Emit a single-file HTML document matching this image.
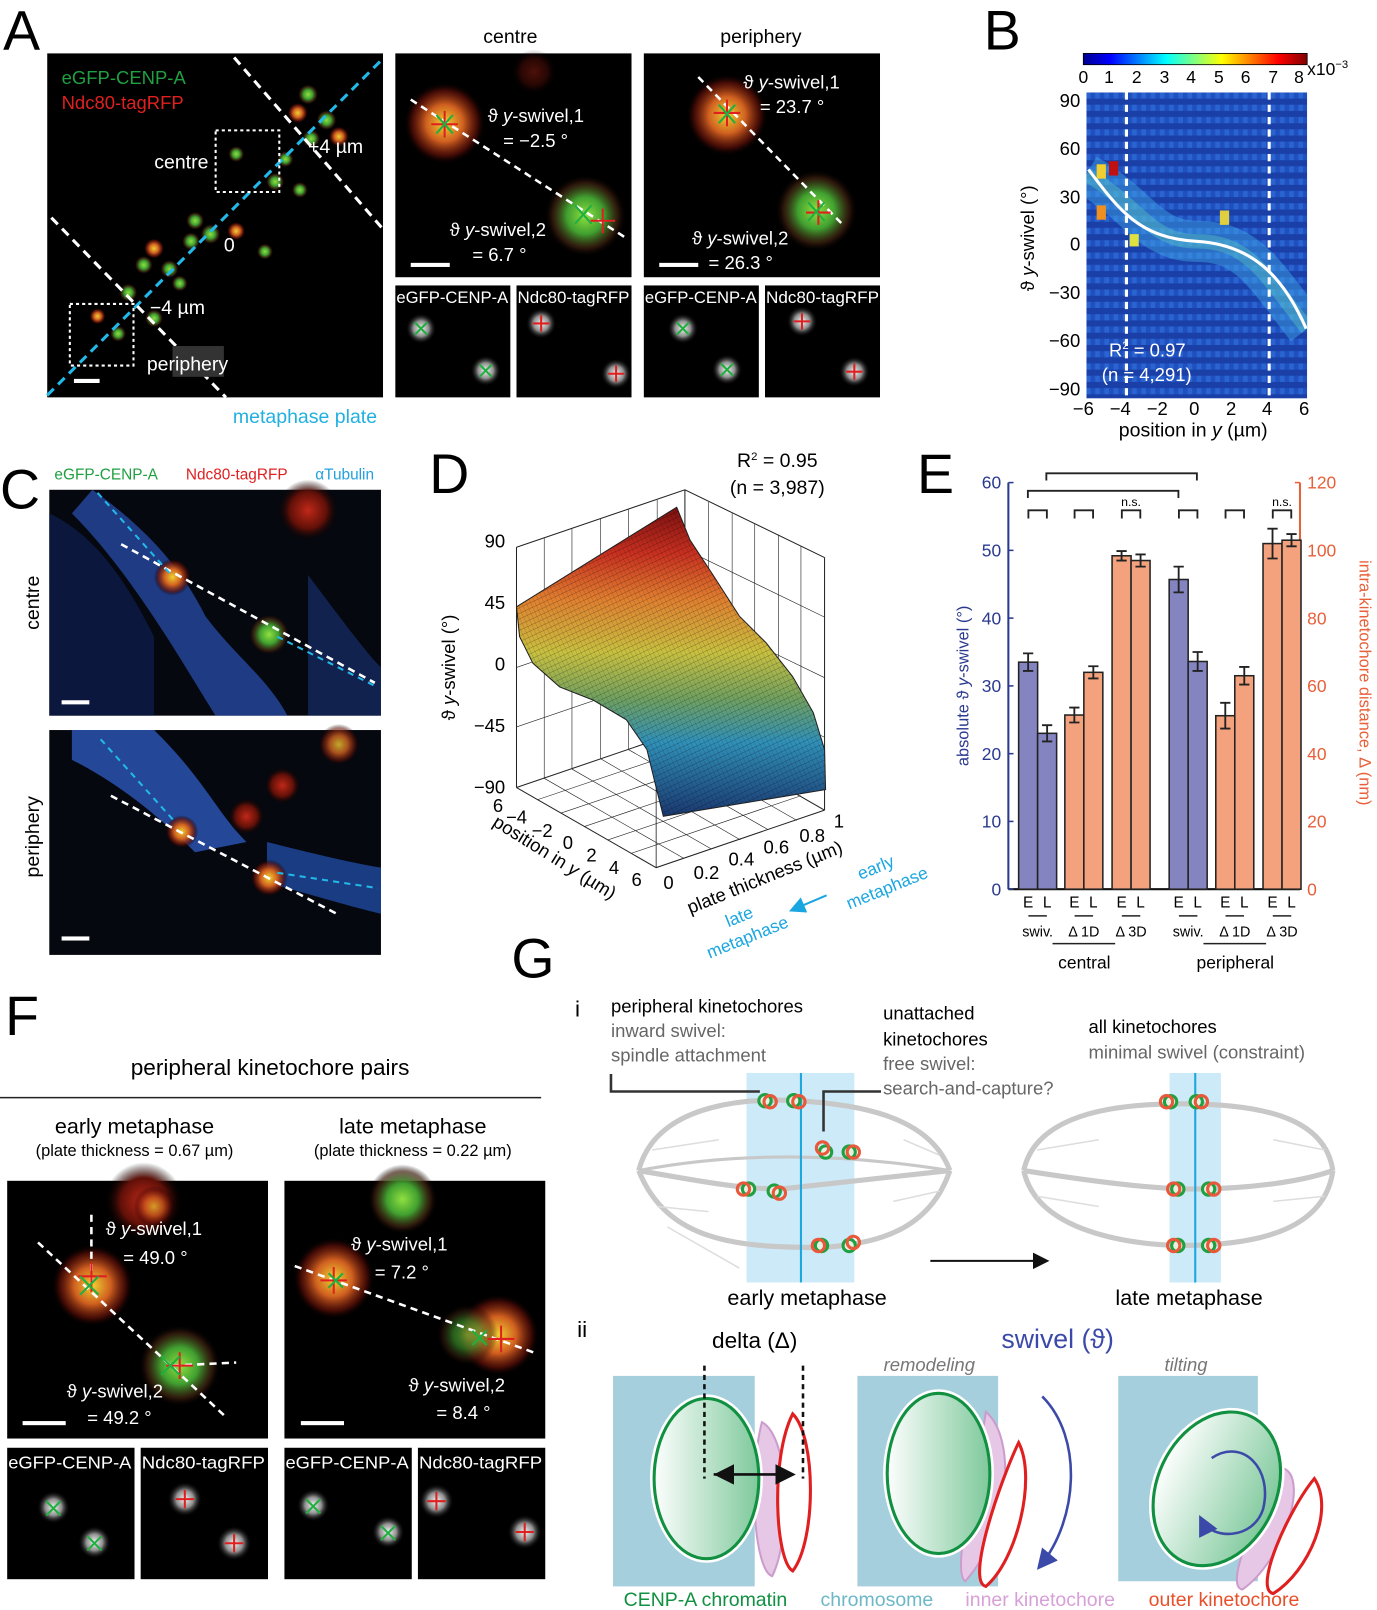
<!DOCTYPE html>
<html><head><meta charset="utf-8"><style>
html,body{margin:0;padding:0;background:#fff;}
svg{display:block;font-family:"Liberation Sans",Arial,sans-serif;}
</style></head><body>
<svg id="fig" width="1377" height="1610" viewBox="0 0 1341 1568" preserveAspectRatio="none" xmlns="http://www.w3.org/2000/svg">
<defs>
<radialGradient id="gY"><stop offset="0" stop-color="#f0d030"/><stop offset="0.45" stop-color="#d06020"/><stop offset="0.8" stop-color="#601008" stop-opacity="0.7"/><stop offset="1" stop-color="#000" stop-opacity="0"/></radialGradient>
<radialGradient id="gG"><stop offset="0" stop-color="#90e040"/><stop offset="0.45" stop-color="#40a030"/><stop offset="0.8" stop-color="#402010" stop-opacity="0.7"/><stop offset="1" stop-color="#000" stop-opacity="0"/></radialGradient>
<radialGradient id="gR"><stop offset="0" stop-color="#c02818"/><stop offset="0.6" stop-color="#601008"/><stop offset="1" stop-color="#000" stop-opacity="0"/></radialGradient>
<radialGradient id="gW"><stop offset="0" stop-color="#f4f4f4"/><stop offset="0.5" stop-color="#909090"/><stop offset="1" stop-color="#000" stop-opacity="0"/></radialGradient>
<linearGradient id="jet" x1="0" x2="1"><stop offset="0" stop-color="#00008f"/><stop offset="0.12" stop-color="#0000ff"/><stop offset="0.37" stop-color="#00ffff"/><stop offset="0.62" stop-color="#ffff00"/><stop offset="0.87" stop-color="#ff0000"/><stop offset="1" stop-color="#800000"/></linearGradient>
<linearGradient id="surf" gradientUnits="userSpaceOnUse" x1="0" y1="494" x2="0" y2="795"><stop offset="0" stop-color="#7a1010"/><stop offset="0.15" stop-color="#c83020"/><stop offset="0.3" stop-color="#e08030"/><stop offset="0.47" stop-color="#c8c040"/><stop offset="0.62" stop-color="#70a060"/><stop offset="0.76" stop-color="#3090b8"/><stop offset="1" stop-color="#1a3870"/></linearGradient>
<pattern id="mesh" width="4" height="5" patternUnits="userSpaceOnUse" patternTransform="rotate(-25)"><rect width="4" height="5" fill="none"/><line x1="0" y1="0" x2="4" y2="0" stroke="#000" stroke-width="0.8" opacity="0.5"/><line x1="0" y1="0" x2="0" y2="5" stroke="#000" stroke-width="0.6" opacity="0.4"/></pattern>
<pattern id="cells" width="9" height="12" patternUnits="userSpaceOnUse"><rect width="9" height="12" fill="#2050c0"/><rect width="9" height="6" fill="#1a40a8"/><rect x="4.5" y="6" width="4.5" height="6" fill="#2a64d0"/></pattern>
<clipPath id="hmClip"><rect x="1058" y="90" width="215" height="298"/></clipPath>
<linearGradient id="chrom" x1="0" x2="1"><stop offset="0" stop-color="#ffffff"/><stop offset="1" stop-color="#7cc89a"/></linearGradient>
<marker id="ah" markerWidth="8" markerHeight="8" refX="6" refY="4" orient="auto"><path d="M0,0 L8,4 L0,8 z" fill="#111"/></marker>
<marker id="ahb" markerWidth="8" markerHeight="8" refX="6" refY="4" orient="auto"><path d="M0,0 L8,4 L0,8 z" fill="#3b4aa8"/></marker>
<marker id="ahc" markerWidth="8" markerHeight="8" refX="6" refY="4" orient="auto"><path d="M0,0 L8,4 L0,8 z" fill="#1aa6e0"/></marker>
<marker id="ahs" markerWidth="8" markerHeight="8" refX="0" refY="4" orient="auto"><path d="M8,0 L0,4 L8,8 z" fill="#111"/></marker>
</defs>

<!-- ========== PANEL A ========== -->
<g>
<text x="3" y="48" font-size="54">A</text>
<rect x="46" y="52" width="327" height="335" fill="#000"/>
<g>
<circle cx="300" cy="92" r="10" fill="url(#gG)"/><circle cx="290" cy="110" r="10" fill="url(#gY)"/><circle cx="318" cy="117" r="10" fill="url(#gG)"/><circle cx="330" cy="133" r="10" fill="url(#gY)"/><circle cx="303" cy="135" r="9" fill="url(#gG)"/>
<circle cx="230" cy="150" r="8" fill="url(#gG)"/><circle cx="268" cy="177" r="9" fill="url(#gG)"/><circle cx="292" cy="185" r="8" fill="url(#gG)"/><circle cx="278" cy="155" r="8" fill="url(#gG)"/>
<circle cx="190" cy="215" r="9" fill="url(#gG)"/><circle cx="205" cy="228" r="10" fill="url(#gG)"/><circle cx="230" cy="225" r="9" fill="url(#gY)"/><circle cx="186" cy="235" r="9" fill="url(#gG)"/><circle cx="258" cy="245" r="8" fill="url(#gG)"/>
<circle cx="150" cy="242" r="10" fill="url(#gY)"/><circle cx="140" cy="258" r="9" fill="url(#gG)"/><circle cx="165" cy="262" r="9" fill="url(#gG)"/><circle cx="175" cy="276" r="8" fill="url(#gG)"/>
<circle cx="125" cy="285" r="9" fill="url(#gG)"/><circle cx="95" cy="308" r="8" fill="url(#gY)"/><circle cx="115" cy="325" r="8" fill="url(#gG)"/><circle cx="150" cy="310" r="9" fill="url(#gG)"/>
</g>
<line x1="46" y1="385" x2="372" y2="58" stroke="#22b8e8" stroke-width="3" stroke-dasharray="9,6"/>
<line x1="228" y1="56" x2="372" y2="222" stroke="#fff" stroke-width="3" stroke-dasharray="9,6"/>
<line x1="50" y1="212" x2="220" y2="387" stroke="#fff" stroke-width="3" stroke-dasharray="9,6"/>
<rect x="210" y="127" width="62" height="60" fill="none" stroke="#fff" stroke-width="2" stroke-dasharray="3,3"/>
<rect x="68" y="296" width="62" height="60" fill="none" stroke="#fff" stroke-width="2" stroke-dasharray="3,3"/>
<rect x="168" y="337" width="50" height="30" fill="#333"/>
<text x="60" y="82" font-size="18" fill="#20a040">eGFP-CENP-A</text>
<text x="60" y="106" font-size="18" fill="#e02020">Ndc80-tagRFP</text>
<text x="203" y="164" font-size="19" fill="#fff" text-anchor="end">centre</text>
<text x="300" y="149" font-size="19" fill="#fff">+4 µm</text>
<text x="218" y="245" font-size="19" fill="#fff">0</text>
<text x="146" y="306" font-size="19" fill="#fff">−4 µm</text>
<text x="143" y="361" font-size="19" fill="#fff">periphery</text>
<rect x="72" y="369" width="25" height="4" fill="#fff"/>
<text x="297" y="412" font-size="19" fill="#22b0e0" text-anchor="middle">metaphase plate</text>

<text x="497" y="42" font-size="19" text-anchor="middle">centre</text>
<text x="741" y="42" font-size="19" text-anchor="middle">periphery</text>
<rect x="385" y="52" width="230" height="218" fill="#000"/>
<circle cx="520" cy="70" r="22" fill="url(#gR)" opacity="0.4"/>
<circle cx="433" cy="120" r="40" fill="url(#gY)"/>
<circle cx="570" cy="210" r="40" fill="url(#gG)"/>
<line x1="400" y1="97" x2="610" y2="232" stroke="#fff" stroke-width="2.5" stroke-dasharray="7,5"/>
<path d="M420,121 h26 M433,108 v26 M575,215 h24 M587,203 v24" stroke="#e02020" stroke-width="2"/>
<path d="M425,112 l16,18 M441,112 l-16,18 M560,200 l16,18 M576,200 l-16,18" stroke="#20b040" stroke-width="2"/>
<text x="475" y="119" font-size="18" fill="#fff">ϑ <tspan font-style="italic">y</tspan>-swivel,1</text>
<text x="490" y="143" font-size="18" fill="#fff">= −2.5 °</text>
<text x="438" y="230" font-size="18" fill="#fff">ϑ <tspan font-style="italic">y</tspan>-swivel,2</text>
<text x="460" y="254" font-size="18" fill="#fff">= 6.7 °</text>
<rect x="400" y="256" width="38" height="4" fill="#fff"/>
<rect x="627" y="52" width="230" height="218" fill="#000"/>
<circle cx="708" cy="112" r="40" fill="url(#gY)"/>
<circle cx="795" cy="205" r="40" fill="url(#gG)"/>
<line x1="680" y1="75" x2="820" y2="218" stroke="#fff" stroke-width="2.5" stroke-dasharray="7,5"/>
<path d="M695,110 h26 M708,97 v26 M785,207 h24 M797,195 v24" stroke="#e02020" stroke-width="2"/>
<path d="M700,102 l16,18 M716,102 l-16,18 M787,197 l16,18 M803,197 l-16,18" stroke="#20b040" stroke-width="2"/>
<text x="724" y="86" font-size="18" fill="#fff">ϑ <tspan font-style="italic">y</tspan>-swivel,1</text>
<text x="740" y="110" font-size="18" fill="#fff">= 23.7 °</text>
<text x="674" y="238" font-size="18" fill="#fff">ϑ <tspan font-style="italic">y</tspan>-swivel,2</text>
<text x="690" y="262" font-size="18" fill="#fff">= 26.3 °</text>
<rect x="642" y="256" width="38" height="4" fill="#fff"/>
<g font-size="16" fill="#fff">
<rect x="385" y="278" width="112" height="109" fill="#000"/><circle cx="410" cy="320" r="15" fill="url(#gW)"/><circle cx="473" cy="361" r="15" fill="url(#gW)"/>
<text x="386" y="295" textLength="109" lengthAdjust="spacingAndGlyphs">eGFP-CENP-A</text>
<rect x="503" y="278" width="112" height="109" fill="#000"/><circle cx="527" cy="315" r="15" fill="url(#gW)"/><circle cx="600" cy="364" r="15" fill="url(#gW)"/>
<text x="504" y="295" textLength="109" lengthAdjust="spacingAndGlyphs">Ndc80-tagRFP</text>
<rect x="627" y="278" width="112" height="109" fill="#000"/><circle cx="665" cy="320" r="15" fill="url(#gW)"/><circle cx="708" cy="360" r="15" fill="url(#gW)"/>
<text x="628" y="295" textLength="109" lengthAdjust="spacingAndGlyphs">eGFP-CENP-A</text>
<rect x="745" y="278" width="112" height="109" fill="#000"/><circle cx="781" cy="313" r="15" fill="url(#gW)"/><circle cx="832" cy="362" r="15" fill="url(#gW)"/>
<text x="746" y="295" textLength="110" lengthAdjust="spacingAndGlyphs">Ndc80-tagRFP</text>
</g>
<path d="M404,314 l12,12 M416,314 l-12,12 M467,355 l12,12 M479,355 l-12,12 M659,314 l12,12 M671,314 l-12,12 M702,354 l12,12 M714,354 l-12,12" stroke="#20b040" stroke-width="2"/>
<path d="M519,315 h16 M527,307 v16 M592,364 h16 M600,356 v16 M773,313 h16 M781,305 v16 M824,362 h16 M832,354 v16" stroke="#e02020" stroke-width="2"/>
</g>

<!-- ========== PANEL B ========== -->
<g>
<text x="958" y="48" font-size="54">B</text>
<rect x="1055" y="52" width="218" height="11" fill="url(#jet)" stroke="#000" stroke-width="0.8"/>
<g font-size="17" text-anchor="middle">
<text x="1055" y="81">0</text><text x="1080" y="81">1</text><text x="1107" y="81">2</text><text x="1134" y="81">3</text><text x="1160" y="81">4</text><text x="1187" y="81">5</text><text x="1213" y="81">6</text><text x="1240" y="81">7</text><text x="1265" y="81">8</text>
</g>
<text x="1273" y="73" font-size="17">x10<tspan font-size="11" dy="-7">−3</tspan></text>
<g clip-path="url(#hmClip)">
<rect x="1058" y="90" width="215" height="298" fill="url(#cells)"/>
<path d="M1058,170 C1110,200 1120,235 1165,235 C1215,235 1230,265 1273,320" stroke="#40a8e8" stroke-width="40" fill="none" opacity="0.45"/>
<path d="M1058,170 C1110,200 1120,235 1165,235 C1215,235 1230,265 1273,320" stroke="#60d0c0" stroke-width="14" fill="none" opacity="0.35"/>
<rect x="1080" y="157" width="9" height="14" fill="#c01010"/><rect x="1068" y="160" width="9" height="14" fill="#f0d030"/><rect x="1068" y="200" width="9" height="14" fill="#f09020"/><rect x="1188" y="205" width="9" height="14" fill="#e0d040"/><rect x="1100" y="228" width="9" height="12" fill="#e0e040"/>
<path d="M1060,165 C1090,205 1110,232 1165,235 C1220,238 1250,270 1272,320" stroke="#fff" stroke-width="3" fill="none"/>
</g>
<line x1="1097" y1="90" x2="1097" y2="388" stroke="#fff" stroke-width="3" stroke-dasharray="7,5"/>
<line x1="1236" y1="90" x2="1236" y2="388" stroke="#fff" stroke-width="3" stroke-dasharray="7,5"/>
<text x="1080" y="347" font-size="18" fill="#fff">R<tspan font-size="11" dy="-7">2</tspan><tspan dy="7"> = 0.97</tspan></text>
<text x="1073" y="371" font-size="18" fill="#fff">(n = 4,291)</text>
<g font-size="18" text-anchor="end">
<text x="1052" y="104">90</text><text x="1052" y="151">60</text><text x="1052" y="198">30</text><text x="1052" y="244">0</text><text x="1052" y="291">−30</text><text x="1052" y="338">−60</text><text x="1052" y="385">−90</text>
</g>
<g font-size="18" text-anchor="middle">
<text x="1055" y="404">−6</text><text x="1091" y="404">−4</text><text x="1127" y="404">−2</text><text x="1163" y="404">0</text><text x="1199" y="404">2</text><text x="1234" y="404">4</text><text x="1270" y="404">6</text>
</g>
<text x="1162" y="425" font-size="19" text-anchor="middle">position in <tspan font-style="italic">y</tspan> (µm)</text>
<text transform="translate(1007,232) rotate(-90)" font-size="18" text-anchor="middle">ϑ <tspan font-style="italic">y</tspan>-swivel (°)</text>
</g>

<!-- ========== PANEL C ========== -->
<g>
<text x="0" y="495" font-size="54">C</text>
<text x="53" y="467" font-size="15" fill="#20a040">eGFP-CENP-A</text>
<text x="181" y="467" font-size="15" fill="#e02020">Ndc80-tagRFP</text>
<text x="307" y="467" font-size="15" fill="#22a0e0">αTubulin</text>
<rect x="48" y="477" width="323" height="220" fill="#05080f"/>
<path d="M90,477 C150,520 180,560 200,600 C230,640 260,660 280,697 L210,697 C180,650 130,560 70,500 Z" fill="#2448a0" opacity="0.8"/>
<path d="M48,500 C90,520 120,560 150,620 L150,697 L48,697 Z" fill="#0e1e50" opacity="0.7"/>
<path d="M300,560 C330,600 360,640 371,650 L371,697 L300,697 Z" fill="#1a3478" opacity="0.6"/>
<circle cx="300" cy="497" r="30" fill="url(#gR)"/>
<circle cx="168" cy="562" r="18" fill="url(#gY)"/><circle cx="262" cy="618" r="20" fill="url(#gG)"/>
<line x1="118" y1="530" x2="365" y2="665" stroke="#fff" stroke-width="2.5" stroke-dasharray="7,5"/>
<line x1="95" y1="480" x2="165" y2="558" stroke="#22b8e8" stroke-width="2" stroke-dasharray="6,5"/>
<line x1="270" y1="620" x2="365" y2="668" stroke="#22b8e8" stroke-width="2" stroke-dasharray="6,5"/>
<rect x="60" y="682" width="27" height="4" fill="#fff"/>
<rect x="48" y="711" width="323" height="219" fill="#05080f"/>
<path d="M70,711 L150,711 C200,760 210,790 240,820 L190,830 C150,790 110,760 70,740 Z" fill="#2a52b0" opacity="0.85"/>
<path d="M260,820 C300,830 340,840 371,845 L371,890 C330,880 300,870 260,860 Z" fill="#1e4aa0" opacity="0.8"/>
<circle cx="330" cy="725" r="20" fill="url(#gY)" opacity="0.8"/><circle cx="275" cy="765" r="18" fill="url(#gR)"/><circle cx="240" cy="795" r="18" fill="url(#gR)"/>
<circle cx="177" cy="810" r="16" fill="url(#gY)"/><circle cx="262" cy="855" r="18" fill="url(#gY)"/>
<line x1="108" y1="775" x2="328" y2="890" stroke="#fff" stroke-width="2.5" stroke-dasharray="7,5"/>
<line x1="98" y1="720" x2="170" y2="800" stroke="#22b8e8" stroke-width="2" stroke-dasharray="6,5"/>
<line x1="270" y1="850" x2="368" y2="865" stroke="#22b8e8" stroke-width="2" stroke-dasharray="6,5"/>
<rect x="60" y="912" width="27" height="4" fill="#fff"/>
<text transform="translate(38,587) rotate(-90)" font-size="19" text-anchor="middle">centre</text>
<text transform="translate(38,815) rotate(-90)" font-size="19" text-anchor="middle">periphery</text>
</g>

<!-- ========== PANEL D ========== -->
<g>
<text x="418" y="480" font-size="54">D</text>
<text x="757" y="455" font-size="19" text-anchor="middle">R<tspan font-size="11" dy="-7">2</tspan><tspan dy="7"> = 0.95</tspan></text>
<text x="757" y="481" font-size="19" text-anchor="middle">(n = 3,987)</text>
<g stroke="#222" stroke-width="1" fill="none">
<polyline points="503,533 667,477 803,543"/>
<line x1="503" y1="533" x2="503" y2="767"/><line x1="667" y1="477" x2="667" y2="711"/><line x1="803" y1="543" x2="803" y2="789"/>
<polyline points="503,767 667,711 803,789"/>
<polyline points="503,767 639,845 803,789"/>
<line x1="639" y1="845" x2="639" y2="611" stroke-width="0.8"/>
<path d="M530,524 v234 M557,515 v234 M585,505 v234 M612,496 v234 M640,487 v234 M690,489 v234 M713,500 v234 M735,510 v234 M758,521 v234 M780,532 v234" stroke-width="0.6"/>
<path d="M503,591 L667,535 L803,601 M503,650 L667,594 L803,660 M503,708 L667,652 L803,718" stroke-width="0.6"/>
<path d="M523,779 L689,723 M546,792 L712,736 M569,805 L735,749 M592,818 L758,762 M615,831 L780,775" stroke-width="0.6"/>
<path d="M530,758 L666,836 M557,749 L693,827 M585,739 L721,818 M612,730 L748,808 M640,721 L776,799" stroke-width="0.6"/>
</g>
<path d="M503,591 L659,494 L672,526 L695,561 L720,600 L746,626 L772,659 L792,694 L803,730 L804,769 L646,795 L638,763 L630,730 L610,701 L578,682 L545,669 L519,646 L506,620 Z" fill="url(#surf)" stroke="#222" stroke-width="1"/>
<path d="M503,591 L659,494 L672,526 L695,561 L720,600 L746,626 L772,659 L792,694 L803,730 L804,769 L646,795 L638,763 L630,730 L610,701 L578,682 L545,669 L519,646 L506,620 Z" fill="url(#mesh)" opacity="0.8"/>
<g font-size="18" text-anchor="end">
<text x="492" y="533">90</text><text x="492" y="593">45</text><text x="492" y="653">0</text><text x="492" y="713">−45</text><text x="492" y="773">−90</text>
</g>
<text transform="translate(443,650) rotate(-90)" font-size="18" text-anchor="middle">ϑ <tspan font-style="italic">y</tspan>-swivel (°)</text>
<g font-size="18" text-anchor="middle">
<text x="485" y="791">6</text><text x="503" y="802">−4</text><text x="528" y="815">−2</text><text x="553" y="827">0</text><text x="576" y="839">2</text><text x="598" y="851">4</text><text x="620" y="863">6</text>
</g>
<g font-size="18" text-anchor="middle">
<text x="651" y="866">0</text><text x="688" y="856">0.2</text><text x="722" y="843">0.4</text><text x="756" y="831">0.6</text><text x="791" y="820">0.8</text><text x="817" y="806">1</text>
</g>
<text transform="translate(537,840) rotate(32)" font-size="18" text-anchor="middle">position in <tspan font-style="italic">y</tspan> (µm)</text>
<text transform="translate(747,860) rotate(-22)" font-size="18" text-anchor="middle">plate thickness (µm)</text>
<text transform="translate(855,850) rotate(-22)" font-size="17" fill="#1aa6e0" text-anchor="middle">early</text>
<text transform="translate(866,870) rotate(-22)" font-size="17" fill="#1aa6e0" text-anchor="middle">metaphase</text>
<text transform="translate(722,898) rotate(-22)" font-size="17" fill="#1aa6e0" text-anchor="middle">late</text>
<text transform="translate(730,918) rotate(-22)" font-size="17" fill="#1aa6e0" text-anchor="middle">metaphase</text>
<line x1="805" y1="872" x2="772" y2="886" stroke="#1aa6e0" stroke-width="2" marker-end="url(#ahc)"/>
</g>

<!-- ========== PANEL E ========== -->
<g id="panelE">
<text x="893" y="480" font-size="54">E</text>
</g>

<!-- ========== PANEL F ========== -->
<g>
<text x="5" y="1008" font-size="54">F</text>
<text x="263" y="1047" font-size="22" text-anchor="middle">peripheral kinetochore pairs</text>
<line x1="0" y1="1069" x2="527" y2="1069" stroke="#222" stroke-width="1.5"/>
<text x="131" y="1104" font-size="21" text-anchor="middle">early metaphase</text>
<text x="131" y="1126" font-size="16" text-anchor="middle">(plate thickness = 0.67 µm)</text>
<text x="402" y="1104" font-size="21" text-anchor="middle">late metaphase</text>
<text x="402" y="1126" font-size="16" text-anchor="middle">(plate thickness = 0.22 µm)</text>
<rect x="7" y="1150" width="254" height="251" fill="#000"/>
<circle cx="140" cy="1170" r="38" fill="url(#gR)"/><circle cx="150" cy="1175" r="20" fill="url(#gY)" opacity="0.7"/>
<circle cx="90" cy="1252" r="40" fill="url(#gY)"/><circle cx="175" cy="1330" r="40" fill="url(#gG)"/>
<line x1="37" y1="1210" x2="220" y2="1380" stroke="#fff" stroke-width="2.5" stroke-dasharray="7,5"/>
<line x1="89" y1="1183" x2="89" y2="1255" stroke="#fff" stroke-width="2.5" stroke-dasharray="7,5"/>
<line x1="168" y1="1330" x2="230" y2="1327" stroke="#fff" stroke-width="2.5" stroke-dasharray="7,5"/>
<path d="M76,1243 h28 M89,1230 v28 M162,1330 h26 M175,1317 v26" stroke="#e02020" stroke-width="2"/>
<path d="M78,1243 l18,18 M96,1243 l-18,18 M157,1321 l18,18 M175,1321 l-18,18" stroke="#20b040" stroke-width="2"/>
<text x="103" y="1203" font-size="18" fill="#fff">ϑ <tspan font-style="italic">y</tspan>-swivel,1</text>
<text x="120" y="1231" font-size="18" fill="#fff">= 49.0 °</text>
<text x="65" y="1361" font-size="18" fill="#fff">ϑ <tspan font-style="italic">y</tspan>-swivel,2</text>
<text x="85" y="1387" font-size="18" fill="#fff">= 49.2 °</text>
<rect x="22" y="1384" width="42" height="4" fill="#fff"/>
<rect x="277" y="1150" width="254" height="251" fill="#000"/>
<circle cx="392" cy="1168" r="34" fill="url(#gG)"/><circle cx="325" cy="1245" r="40" fill="url(#gY)"/><circle cx="485" cy="1300" r="40" fill="url(#gY)"/><circle cx="455" cy="1300" r="30" fill="url(#gG)" opacity="0.6"/>
<line x1="287" y1="1233" x2="522" y2="1318" stroke="#fff" stroke-width="2.5" stroke-dasharray="7,5"/>
<path d="M312,1247 h26 M325,1234 v26 M475,1304 h26 M488,1291 v26" stroke="#e02020" stroke-width="2"/>
<path d="M320,1240 l14,14 M334,1240 l-14,14 M460,1296 l14,14 M474,1296 l-14,14" stroke="#20b040" stroke-width="2"/>
<text x="342" y="1218" font-size="18" fill="#fff">ϑ <tspan font-style="italic">y</tspan>-swivel,1</text>
<text x="365" y="1245" font-size="18" fill="#fff">= 7.2 °</text>
<text x="398" y="1355" font-size="18" fill="#fff">ϑ <tspan font-style="italic">y</tspan>-swivel,2</text>
<text x="425" y="1382" font-size="18" fill="#fff">= 8.4 °</text>
<rect x="293" y="1384" width="42" height="4" fill="#fff"/>
<g font-size="17" fill="#fff">
<rect x="7" y="1410" width="124" height="128" fill="#000"/><circle cx="52" cy="1468" r="16" fill="url(#gW)"/><circle cx="92" cy="1502" r="16" fill="url(#gW)"/>
<text x="8" y="1430" textLength="120" lengthAdjust="spacingAndGlyphs">eGFP-CENP-A</text>
<rect x="137" y="1410" width="124" height="128" fill="#000"/><circle cx="180" cy="1460" r="17" fill="url(#gW)"/><circle cx="228" cy="1503" r="17" fill="url(#gW)"/>
<text x="138" y="1430" textLength="120" lengthAdjust="spacingAndGlyphs">Ndc80-tagRFP</text>
<rect x="277" y="1410" width="124" height="128" fill="#000"/><circle cx="305" cy="1466" r="16" fill="url(#gW)"/><circle cx="378" cy="1492" r="16" fill="url(#gW)"/>
<text x="278" y="1430" textLength="120" lengthAdjust="spacingAndGlyphs">eGFP-CENP-A</text>
<rect x="407" y="1410" width="124" height="128" fill="#000"/><circle cx="425" cy="1462" r="17" fill="url(#gW)"/><circle cx="511" cy="1492" r="17" fill="url(#gW)"/>
<text x="408" y="1430" textLength="120" lengthAdjust="spacingAndGlyphs">Ndc80-tagRFP</text>
</g>
<path d="M45,1462 l14,14 M59,1462 l-14,14 M85,1496 l14,14 M99,1496 l-14,14 M298,1460 l14,14 M312,1460 l-14,14 M371,1486 l14,14 M385,1486 l-14,14" stroke="#20b040" stroke-width="2"/>
<path d="M171,1460 h18 M180,1451 v18 M219,1503 h18 M228,1494 v18 M416,1462 h18 M425,1453 v18 M502,1492 h18 M511,1483 v18" stroke="#e02020" stroke-width="2"/>
</g>

<!-- ========== PANEL G ========== -->
<g>
<text x="498" y="952" font-size="54">G</text>
<text x="560" y="990" font-size="22">i</text>
<text x="595" y="986" font-size="18">peripheral kinetochores</text>
<text x="595" y="1010" font-size="18" fill="#666">inward swivel:</text>
<text x="595" y="1034" font-size="18" fill="#666">spindle attachment</text>
<text x="860" y="993" font-size="18">unattached</text>
<text x="860" y="1018" font-size="18">kinetochores</text>
<text x="860" y="1042" font-size="18" fill="#666">free swivel:</text>
<text x="860" y="1066" font-size="18" fill="#666">search-and-capture?</text>
<text x="1060" y="1006" font-size="18">all kinetochores</text>
<text x="1060" y="1031" font-size="18" fill="#666">minimal swivel (constraint)</text>
<rect x="727" y="1045" width="105" height="204" fill="#cdeaf8"/>
<g fill="none" stroke="#c8c8c8" stroke-width="5">
<path d="M622,1140 C640,1070 740,1070 775,1072 C830,1075 905,1085 925,1140"/>
<path d="M622,1140 C650,1210 720,1215 800,1215 C850,1212 905,1200 925,1140"/>
<path d="M622,1140 C680,1150 720,1158 760,1158 L925,1140"/>
<path d="M622,1140 C700,1125 800,1120 925,1140" stroke-width="3"/>
</g>
<g fill="none" stroke="#ddd" stroke-width="1.5"><path d="M635,1120 L700,1110 M640,1175 L690,1180 M880,1110 L915,1125 M870,1170 L915,1160 M650,1195 L720,1235"/></g>
<line x1="780" y1="1045" x2="780" y2="1249" stroke="#1aa6e0" stroke-width="2"/>
<rect x="1139" y="1045" width="50" height="204" fill="#cdeaf8"/>
<g fill="none" stroke="#c8c8c8" stroke-width="5">
<path d="M997,1140 C1010,1080 1100,1075 1150,1075 C1220,1075 1290,1085 1298,1140"/>
<path d="M997,1140 C1010,1200 1100,1212 1150,1213 C1220,1213 1290,1200 1298,1140"/>
<path d="M997,1140 C1060,1150 1120,1158 1160,1158 C1220,1158 1270,1150 1298,1140"/>
</g>
<g fill="none" stroke="#ddd" stroke-width="1.5"><path d="M1010,1120 L1070,1110 M1010,1165 L1070,1175 M1240,1110 L1290,1120 M1240,1170 L1290,1165"/></g>
<line x1="1164" y1="1045" x2="1164" y2="1249" stroke="#1aa6e0" stroke-width="2"/>
<g fill="#e8f0e0" stroke-width="3">
<g stroke="#20a040"><circle cx="745" cy="1072" r="6"/><circle cx="773" cy="1072" r="6"/><circle cx="804" cy="1122" r="6"/><circle cx="827" cy="1122" r="6"/><circle cx="729" cy="1158" r="6"/><circle cx="754" cy="1160" r="6"/><circle cx="800" cy="1213" r="6"/><circle cx="827" cy="1213" r="6"/>
<circle cx="1140" cy="1073" r="6"/><circle cx="1165" cy="1073" r="6"/><circle cx="1147" cy="1158" r="6"/><circle cx="1177" cy="1158" r="6"/><circle cx="1147" cy="1213" r="6"/><circle cx="1177" cy="1213" r="6"/></g>
<g stroke="#e8583a" fill="none"><circle cx="750" cy="1073" r="6"/><circle cx="778" cy="1073" r="6"/><circle cx="801" cy="1118" r="6"/><circle cx="831" cy="1122" r="6"/><circle cx="724" cy="1158" r="6"/><circle cx="759" cy="1162" r="6"/><circle cx="797" cy="1213" r="6"/><circle cx="831" cy="1210" r="6"/>
<circle cx="1136" cy="1073" r="6"/><circle cx="1170" cy="1073" r="6"/><circle cx="1143" cy="1158" r="6"/><circle cx="1182" cy="1158" r="6"/><circle cx="1143" cy="1213" r="6"/><circle cx="1182" cy="1213" r="6"/></g>
</g>
<polyline points="595,1046 595,1063 740,1063" fill="none" stroke="#333" stroke-width="2.5"/>
<polyline points="858,1063 802,1063 802,1102" fill="none" stroke="#333" stroke-width="2.5"/>
<line x1="906" y1="1228" x2="1018" y2="1228" stroke="#111" stroke-width="2" marker-end="url(#ah)"/>
<text x="786" y="1271" font-size="21" text-anchor="middle">early metaphase</text>
<text x="1158" y="1271" font-size="21" text-anchor="middle">late metaphase</text>
<text x="562" y="1302" font-size="22">ii</text>
<text x="735" y="1313" font-size="22" text-anchor="middle">delta (Δ)</text>
<text x="1030" y="1313" font-size="26" fill="#3b4aa8" text-anchor="middle">swivel (ϑ)</text>
<text x="905" y="1335" font-size="18" font-style="italic" fill="#777" text-anchor="middle">remodeling</text>
<text x="1155" y="1335" font-size="18" font-style="italic" fill="#777" text-anchor="middle">tilting</text>
<rect x="597" y="1340" width="138" height="205" fill="#a5cfdc"/>
<path d="M742,1385 C770,1400 770,1500 752,1535 C735,1530 728,1440 742,1385 Z" fill="#e6c8e6" stroke="#cc9ccc" stroke-width="2"/>
<path d="M772,1377 C795,1400 795,1500 772,1530 C755,1520 750,1420 772,1377 Z" fill="#fff" stroke="#e02020" stroke-width="3"/>
<ellipse cx="688" cy="1440" rx="53" ry="80" fill="url(#chrom)" stroke="#fff" stroke-width="4"/>
<ellipse cx="688" cy="1440" rx="51" ry="78" fill="none" stroke="#109040" stroke-width="3"/>
<line x1="686" y1="1330" x2="686" y2="1440" stroke="#111" stroke-width="2.5" stroke-dasharray="5,4"/>
<line x1="782" y1="1330" x2="782" y2="1440" stroke="#111" stroke-width="2.5" stroke-dasharray="5,4"/>
<line x1="695" y1="1436" x2="770" y2="1436" stroke="#111" stroke-width="2.5" marker-start="url(#ahs)" marker-end="url(#ah)"/>
<rect x="835" y="1340" width="137" height="205" fill="#a5cfdc"/>
<path d="M960,1375 C990,1400 985,1490 940,1540 C925,1530 955,1420 960,1375 Z" fill="#e6c8e6" stroke="#cc9ccc" stroke-width="2"/>
<path d="M992,1405 C1010,1440 990,1520 960,1545 C940,1540 975,1440 992,1405 Z" fill="#fff" stroke="#e02020" stroke-width="3"/>
<ellipse cx="914" cy="1435" rx="52" ry="80" fill="url(#chrom)" stroke="#fff" stroke-width="4"/>
<ellipse cx="914" cy="1435" rx="50" ry="78" fill="none" stroke="#109040" stroke-width="3"/>
<path d="M1015,1360 C1055,1400 1050,1480 1013,1525" fill="none" stroke="#3b4aa8" stroke-width="2.5" marker-end="url(#ahb)"/>
<rect x="1089" y="1340" width="136" height="200" fill="#a5cfdc"/>
<path d="M1250,1430 C1275,1440 1250,1520 1210,1548 C1190,1545 1230,1460 1250,1430 Z" fill="#e6c8e6" stroke="#cc9ccc" stroke-width="2"/>
<path d="M1280,1440 C1300,1470 1275,1530 1240,1552 C1220,1548 1255,1470 1280,1440 Z" fill="#fff" stroke="#e02020" stroke-width="3"/>
<ellipse cx="1185" cy="1450" rx="60" ry="80" transform="rotate(25,1185,1450)" fill="url(#chrom)" stroke="#fff" stroke-width="4"/>
<ellipse cx="1185" cy="1450" rx="58" ry="78" transform="rotate(25,1185,1450)" fill="none" stroke="#109040" stroke-width="3"/>
<path d="M1180,1420 C1210,1400 1240,1430 1230,1470 C1220,1500 1180,1500 1170,1480" fill="none" stroke="#3b4aa8" stroke-width="2.5" marker-end="url(#ahb)"/>
<text x="687" y="1564" font-size="19" fill="#109040" text-anchor="middle">CENP-A chromatin</text>
<text x="854" y="1564" font-size="19" fill="#6cb8c8" text-anchor="middle">chromosome</text>
<text x="1013" y="1564" font-size="19" fill="#d8a0d8" text-anchor="middle">inner kinetochore</text>
<text x="1192" y="1564" font-size="19" fill="#e8502a" text-anchor="middle">outer kinetochore</text>
</g>
</svg>

<script>
// Panel E data
const groupLabels = ['swiv.', 'Δ 1D', 'Δ 3D', 'swiv.', 'Δ 1D', 'Δ 3D'];
const groupAxis = ['left', 'right', 'right', 'left', 'right', 'right'];
const earlyValues = [33.5, 51.4, 98.4, 45.7, 51.2, 102.0];
const lateValues = [23.0, 64.0, 97.0, 33.6, 63.0, 103.0];
const earlyErr = [1.3, 2.2, 1.4, 1.9, 3.8, 4.4];
const lateErr = [1.2, 1.8, 1.8, 1.4, 2.6, 1.8];
const leftTicks = [0, 10, 20, 30, 40, 50, 60];
const rightTicks = [0, 20, 40, 60, 80, 100, 120];

const NS = 'http://www.w3.org/2000/svg';
const E = document.getElementById('panelE');
const Y0 = 866, Y1 = 470, AXL = 982, AXR = 1266;
function yLeft(v) { return Y0 - (v / 60) * (Y0 - Y1); }
function yRight(v) { return Y0 - (v / 120) * (Y0 - Y1); }
function yFor(i, v) { return groupAxis[i] === 'left' ? yLeft(v) : yRight(v); }
const groupStart = [992, 1037, 1083, 1138.6, 1184, 1230];
const BW = 18.5;
function mk(tag, attrs, parent) {
  const el = document.createElementNS(NS, tag);
  for (const k in attrs) el.setAttribute(k, attrs[k]);
  (parent || E).appendChild(el);
  return el;
}
let a = mk('line', {x1: AXL, y1: Y0, x2: AXL, y2: Y1, stroke: '#2b3a8f', 'stroke-width': 2});


a = mk('line', {x1: AXR, y1: Y0, x2: AXR, y2: Y1, stroke: '#e8603a', 'stroke-width': 2});


a = mk('line', {x1: AXL, y1: Y0, x2: AXR, y2: Y0, stroke: '#111', 'stroke-width': 2});


leftTicks.forEach(t => {
  const y = yLeft(t);
  mk('line', {x1: AXL, y1: y, x2: AXL + 5, y2: y, stroke: '#2b3a8f', 'stroke-width': 1.5});
  const tx = mk('text', {x: AXL - 7, y: y + 6, 'font-size': 17, fill: '#2b3a8f', 'text-anchor': 'end'});
  tx.textContent = t;
  
  
});
rightTicks.forEach(t => {
  const y = yRight(t);
  mk('line', {x1: AXR - 5, y1: y, x2: AXR, y2: y, stroke: '#e8603a', 'stroke-width': 1.5});
  const tx = mk('text', {x: AXR + 7, y: y + 6, 'font-size': 17, fill: '#e8603a'});
  tx.textContent = t;
  
  
});
groupLabels.forEach((g, i) => {
  const color = groupAxis[i] === 'left' ? '#8484c0' : '#f4a27e';
  [[earlyValues[i], earlyErr[i], 0, 'E'], [lateValues[i], lateErr[i], 1, 'L']].forEach(([v, e, k, lab]) => {
    const x = groupStart[i] + k * BW;
    const y = yFor(i, v);
    const r = mk('rect', {x: x, y: y, width: BW, height: Y0 - y, fill: color, stroke: '#222', 'stroke-width': 1.5});
    
    
    const cx = x + BW / 2, yt = yFor(i, v + e), yb = yFor(i, v - e);
    const eb = mk('path', {d: `M${cx},${yt} V${yb} M${cx-5},${yt} H${cx+5} M${cx-5},${yb} H${cx+5}`, stroke: '#222', 'stroke-width': 1.8, fill: 'none'});
    
    
    const t = mk('text', {x: cx, y: 884, 'font-size': 15, 'text-anchor': 'middle'});
    t.textContent = lab;
  });
  const gx = groupStart[i] + BW;
  mk('line', {x1: gx - 9, y1: 892, x2: gx + 9, y2: 892, stroke: '#222', 'stroke-width': 1.5});
  const gl = mk('text', {x: gx, y: 912, 'font-size': 14, 'text-anchor': 'middle'});
  gl.textContent = g;
  
  
  mk('path', {d: `M${gx-9},${505} V${497} H${gx+9} V${505}`, stroke: '#222', 'stroke-width': 1.8, fill: 'none'});
  if (i === 2 || i === 5) { const ns = mk('text', {x: gx, y: 493, 'font-size': 12, 'text-anchor': 'middle'}); ns.textContent = 'n.s.'; }
});
mk('path', {d: `M${groupStart[0]+9},${485} V${478} H${groupStart[3]+9} V${485}`, stroke: '#222', 'stroke-width': 1.8, fill: 'none'});
mk('path', {d: `M${groupStart[0]+27},${468} V${461} H${groupStart[3]+27} V${468}`, stroke: '#222', 'stroke-width': 1.8, fill: 'none'});
mk('line', {x1: 1025, y1: 919, x2: 1086, y2: 919, stroke: '#222', 'stroke-width': 1.5});
mk('line', {x1: 1172, y1: 919, x2: 1233, y2: 919, stroke: '#222', 'stroke-width': 1.5});
let c = mk('text', {x: 1056, y: 943, 'font-size': 17, 'text-anchor': 'middle'}); c.textContent = 'central';
c = mk('text', {x: 1203, y: 943, 'font-size': 17, 'text-anchor': 'middle'}); c.textContent = 'peripheral';
let yl = mk('text', {transform: 'translate(943,668) rotate(-90)', 'font-size': 16, fill: '#2b3a8f', 'text-anchor': 'middle'});
yl.innerHTML = 'absolute ϑ <tspan font-style="italic">y</tspan>-swivel (°)';


let yr = mk('text', {transform: 'translate(1324,665) rotate(90)', 'font-size': 16, fill: '#e8603a', 'text-anchor': 'middle'});
yr.textContent = 'intra-kinetochore distance, Δ (nm)';


</script>
</body></html>
